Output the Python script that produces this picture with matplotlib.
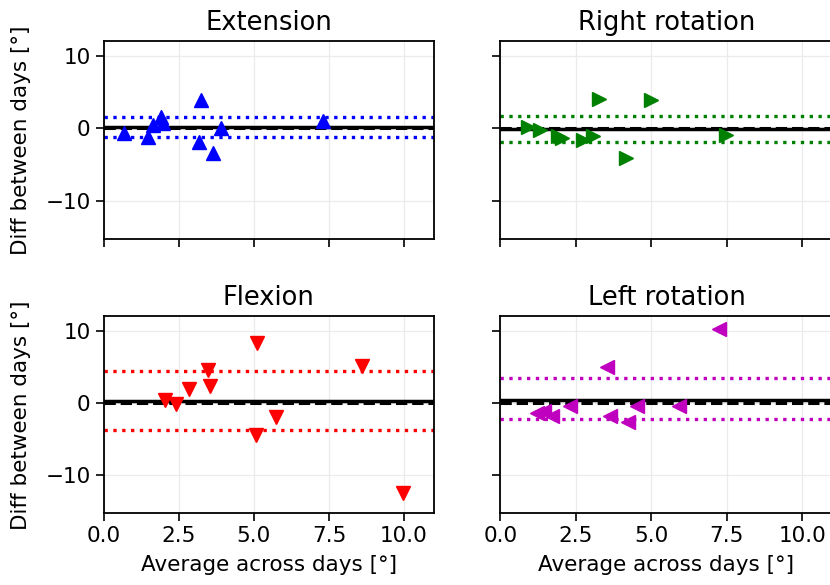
import numpy as np
import matplotlib
matplotlib.use("Agg")
import matplotlib.pyplot as plt

# Bland-Altman style data
titles = ["Extension", "Right rotation", "Flexion", "Left rotation"]
colors = ["b", "g", "r", "m"]
markers = ["^", ">", "v", "<"]

ext_x = [0.68, 1.49, 1.65, 1.90, 1.96, 3.23, 3.17, 3.64, 3.92, 7.30]
ext_y = [-0.6, -1.2, 0.45, 1.6, 0.7, 3.9, -1.8, -3.3, 0.1, 1.0]

rrot_x = [0.92, 1.31, 1.90, 2.05, 2.74, 3.06, 3.28, 4.16, 4.98, 7.47]
rrot_y = [0.2, -0.2, -1.1, -1.3, -1.6, -1.05, 4.1, -4.1, 3.95, -0.9]

flex_x = [2.04, 2.40, 2.84, 3.48, 3.53, 5.10, 5.06, 5.72, 8.60, 9.95]
flex_y = [0.45, -0.15, 1.95, 4.6, 2.4, 8.4, -4.4, -1.9, 5.2, -12.4]

lrot_x = [1.20, 1.45, 1.72, 2.30, 3.52, 3.63, 4.24, 4.52, 5.92, 7.23]
lrot_y = [-1.4, -1.1, -1.8, -0.45, 5.0, -1.8, -2.6, -0.45, -0.45, 10.3]

# mean difference and limits of agreement (lower, mean, upper)
ext_lines = [-1.2, 0.2, 1.6]
rrot_lines = [-1.8, -0.05, 1.65]
flex_lines = [-3.75, 0.25, 4.45]
lrot_lines = [-2.2, 0.4, 3.55]

xs = [ext_x, rrot_x, flex_x, lrot_x]
ys = [ext_y, rrot_y, flex_y, lrot_y]
lines = [ext_lines, rrot_lines, flex_lines, lrot_lines]

plt.rcParams["font.family"] = "DejaVu Sans"
plt.rcParams["font.size"] = 15.5

fig = plt.figure(figsize=(8.3, 5.85), dpi=100)
rects = [
    [0.125, 0.591, 0.398, 0.339],
    [0.603, 0.591, 0.400, 0.339],
    [0.125, 0.123, 0.398, 0.336],
    [0.603, 0.123, 0.400, 0.336],
]

for i in range(4):
    ax = fig.add_axes(rects[i])
    ax.grid(True, color="#ebebeb", linewidth=0.9)
    ax.set_axisbelow(True)
    lo, mu, hi = lines[i]
    ax.axhline(0, color="k", linestyle="--", linewidth=2.2, zorder=2)
    ax.axhline(mu, color="k", linestyle="-", linewidth=2.5, zorder=2)
    ax.axhline(hi, color=colors[i], linestyle=":", linewidth=2.4, zorder=2)
    ax.axhline(lo, color=colors[i], linestyle=":", linewidth=2.4, zorder=2)
    ax.plot(xs[i], ys[i], linestyle="none", marker=markers[i],
            color=colors[i], markersize=10, zorder=3)
    ax.set_xlim(0, 11)
    ax.set_ylim(-15.2, 12)
    ax.set_xticks([0.0, 2.5, 5.0, 7.5, 10.0])
    ax.set_yticks([-10, 0, 10])
    ax.set_title(titles[i], fontsize=18.5, pad=8)
    ax.tick_params(direction="out", length=6, width=1.2, color="k")
    for sp in ax.spines.values():
        sp.set_color("k")
        sp.set_linewidth(1.3)
    if i % 2 == 0:
        ax.set_ylabel("Diff between days [°]", labelpad=10)
    else:
        ax.tick_params(labelleft=False)
    if i >= 2:
        ax.set_xlabel("Average across days [°]", labelpad=6)
    else:
        ax.tick_params(labelbottom=False)

fig.savefig("out.png", dpi=100)
